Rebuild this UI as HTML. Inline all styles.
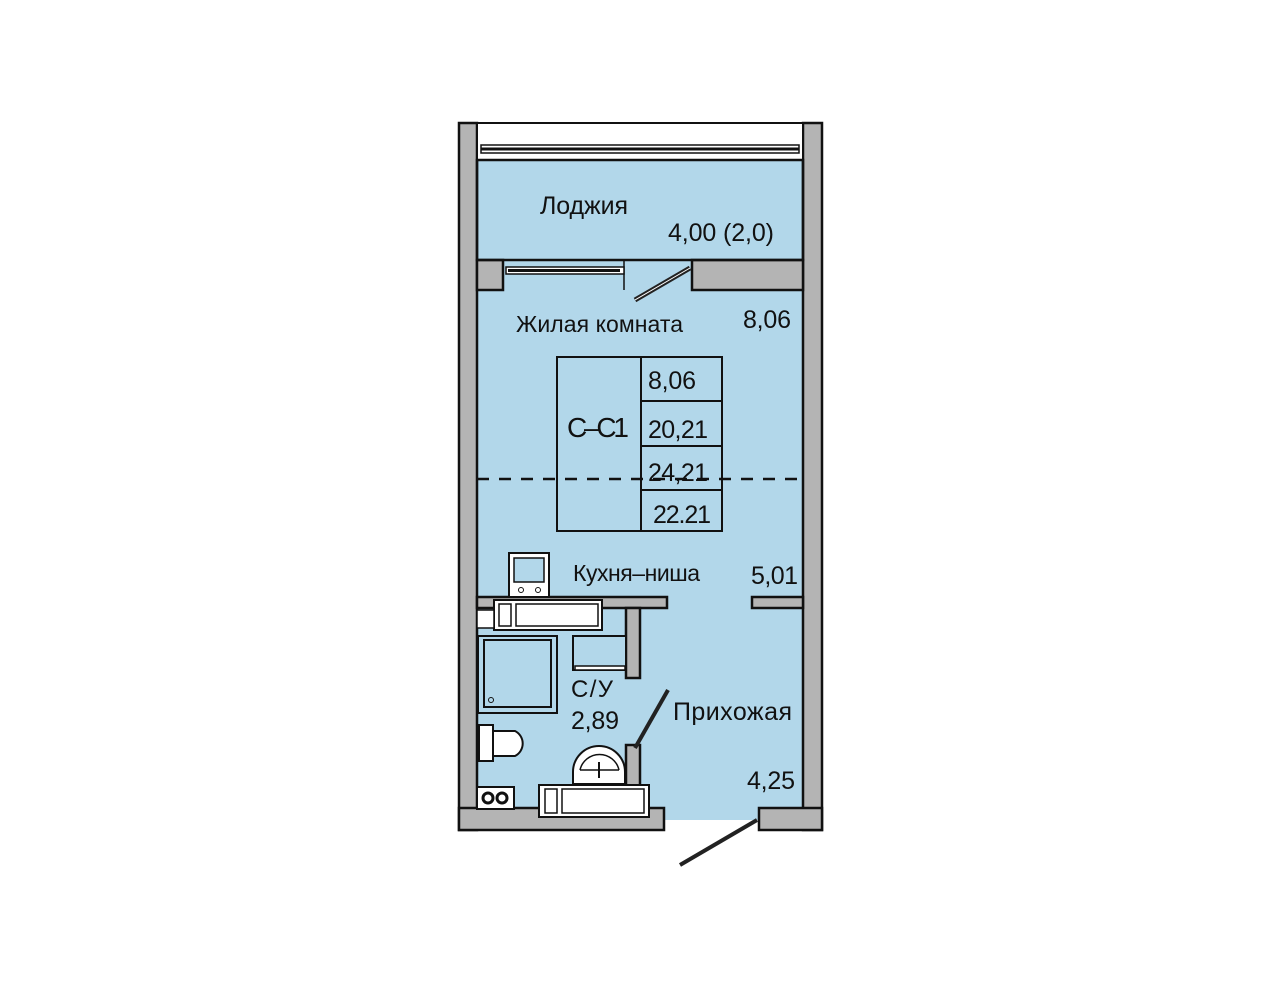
<!DOCTYPE html>
<html><head><meta charset="utf-8"><style>
html,body{margin:0;padding:0;background:#fff;}
svg{display:block}
text{font-family:"Liberation Sans Narrow","Liberation Sans",sans-serif;fill:#111;}
</style></head><body>
<svg width="1280" height="988" viewBox="0 0 1280 988" xmlns="http://www.w3.org/2000/svg">
<rect width="1280" height="988" fill="#fff"/>
<rect x="477" y="160" width="326" height="100" fill="#b2d7ea"/>
<rect x="503" y="260" width="189" height="30" fill="#b2d7ea"/>
<rect x="477" y="290" width="326" height="530" fill="#b2d7ea"/>
<g fill="#b4b4b4" stroke="#111" stroke-width="2.5">
<rect x="459" y="123" width="18" height="707"/>
<rect x="803" y="123" width="19" height="707"/>
<rect x="477" y="260" width="26" height="30"/>
<rect x="692" y="260" width="111" height="30"/>
<rect x="459" y="808" width="205" height="22"/>
<rect x="759" y="808" width="63" height="22"/>
<rect x="477" y="597" width="190" height="11"/>
<rect x="626" y="608" width="14" height="70"/>
<rect x="752" y="597" width="51" height="11"/>
<rect x="626" y="745" width="14" height="63"/>
</g>
<rect x="477" y="123" width="326" height="37" fill="#fff" stroke="#111" stroke-width="2"/>
<rect x="481" y="145" width="318" height="8" fill="#fff" stroke="#111" stroke-width="1.5"/>
<line x1="481" y1="149" x2="799" y2="149" stroke="#111" stroke-width="3"/>
<rect x="477" y="160" width="326" height="100" fill="none" stroke="#111" stroke-width="2.5"/>
<line x1="624" y1="260" x2="624" y2="290" stroke="#111" stroke-width="1.5"/>
<rect x="506" y="267" width="118" height="7" fill="#fff" stroke="#111" stroke-width="1.5"/>
<line x1="508" y1="270.5" x2="620" y2="270.5" stroke="#111" stroke-width="3"/>
<line x1="635" y1="300" x2="690" y2="268" stroke="#222" stroke-width="5"/>
<line x1="635" y1="300" x2="690" y2="268" stroke="#fff" stroke-width="1"/>
<g fill="none" stroke="#111" stroke-width="2">
<rect x="557" y="357" width="165" height="174"/>
<line x1="641" y1="357" x2="641" y2="531"/>
<line x1="641" y1="401" x2="722" y2="401"/>
<line x1="641" y1="446" x2="722" y2="446"/>
<line x1="641" y1="490" x2="722" y2="490"/>
</g>
<line x1="477" y1="479" x2="803" y2="479" stroke="#111" stroke-width="2.5" stroke-dasharray="12,10"/>
<rect x="509" y="553" width="40" height="44" fill="#fff" stroke="#111" stroke-width="2"/>
<rect x="514" y="558" width="30" height="24" fill="#b2d7ea" stroke="#111" stroke-width="1.5"/>
<circle cx="521" cy="590" r="2.5" fill="none" stroke="#111"/><circle cx="538" cy="590" r="2.5" fill="none" stroke="#111"/>
<rect x="494" y="600" width="108" height="30" fill="#fff" stroke="#111" stroke-width="2"/>
<rect x="499" y="604" width="12" height="22" fill="#fff" stroke="#111" stroke-width="1.5"/>
<rect x="516" y="604" width="82" height="22" fill="#fff" stroke="#111" stroke-width="1.5"/>
<rect x="477" y="610" width="17" height="18" fill="#fff" stroke="#111" stroke-width="1.5"/>
<rect x="478" y="636" width="79" height="77" fill="#b2d7ea" stroke="#111" stroke-width="2"/>
<rect x="484" y="640" width="67" height="67" fill="#b2d7ea" stroke="#111" stroke-width="2"/>
<circle cx="491" cy="700" r="2.5" fill="none" stroke="#111"/>
<rect x="573" y="636" width="53" height="34" fill="#b2d7ea" stroke="#111" stroke-width="2"/>
<rect x="575" y="666" width="50" height="4" fill="#fff" stroke="#111" stroke-width="1.5"/>
<rect x="479" y="725" width="14" height="36" fill="#fff" stroke="#111" stroke-width="2"/>
<path d="M493 731 H515 A14 14 0 0 1 515 756 H493 Z" fill="#fff" stroke="#111" stroke-width="2"/>
<rect x="477" y="787" width="37" height="22" fill="#fff" stroke="#111" stroke-width="2"/>
<circle cx="488" cy="798" r="5" fill="none" stroke="#111" stroke-width="3"/>
<circle cx="502" cy="798" r="5" fill="none" stroke="#111" stroke-width="3"/>
<path d="M573 784 V772 A26 26 0 0 1 625 772 V784 Z" fill="#fff" stroke="#111" stroke-width="2"/>
<path d="M580 770 A20 20 0 0 1 619 770" fill="none" stroke="#111" stroke-width="1.5"/>
<line x1="580" y1="770" x2="619" y2="770" stroke="#111" stroke-width="1.5"/>
<line x1="599" y1="762" x2="599" y2="778" stroke="#111" stroke-width="2"/>
<rect x="539" y="785" width="110" height="32" fill="#fff" stroke="#111" stroke-width="2"/>
<rect x="545" y="789" width="12" height="24" fill="#fff" stroke="#111" stroke-width="1.5"/>
<rect x="562" y="789" width="82" height="24" fill="#fff" stroke="#111" stroke-width="1.5"/>
<line x1="635" y1="748" x2="668" y2="690" stroke="#222" stroke-width="4"/>
<line x1="680" y1="865" x2="757" y2="820" stroke="#222" stroke-width="4"/>
<text x="540" y="214" font-size="25" textLength="88">Лоджия</text>
<text x="668" y="241" font-size="25" textLength="106">4,00 (2,0)</text>
<text x="516" y="332" font-size="23" textLength="167">Жилая комната</text>
<text x="743" y="328" font-size="25" textLength="48">8,06</text>
<text x="648" y="389" font-size="25" textLength="48">8,06</text>
<text x="567" y="437" font-size="28" textLength="62">С–С1</text>
<text x="648" y="438" font-size="25" textLength="60">20,21</text>
<text x="648" y="481" font-size="25" textLength="60">24,21</text>
<text x="653" y="523" font-size="25" textLength="58">22.21</text>
<text x="573" y="581" font-size="23" textLength="127">Кухня–ниша</text>
<text x="751" y="584" font-size="25" textLength="47">5,01</text>
<text x="571" y="697" font-size="24" textLength="42">С/У</text>
<text x="571" y="729" font-size="25" textLength="48">2,89</text>
<text x="673" y="720" font-size="25" textLength="119">Прихожая</text>
<text x="747" y="789" font-size="25" textLength="48">4,25</text>
</svg>
</body></html>
